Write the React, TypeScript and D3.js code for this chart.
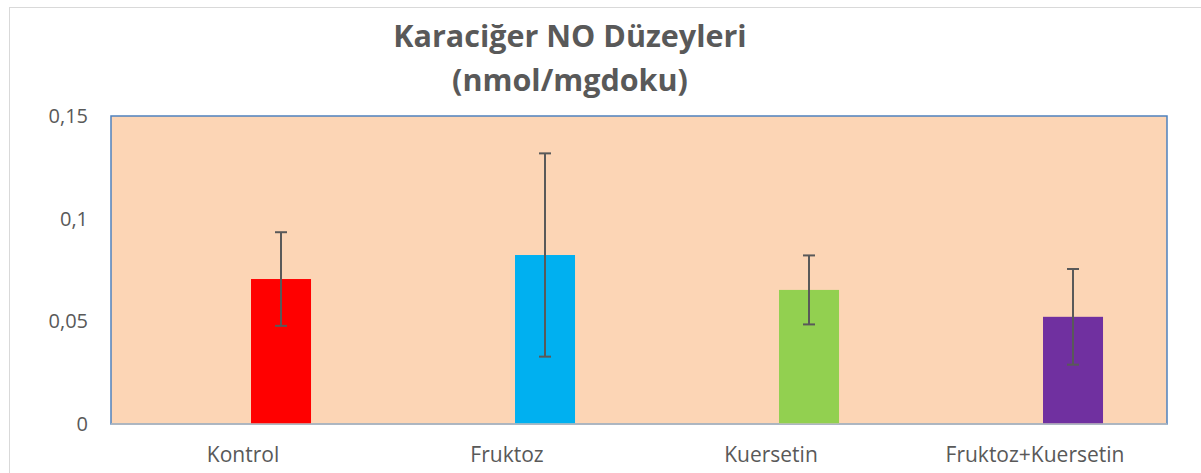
import React from "react";
import * as d3 from "d3";

const categories = ["Kontrol", "Fruktoz", "Kuersetin", "Fruktoz+Kuersetin"];
const values = [0.0706, 0.0823, 0.0653, 0.0522];
const errors = [0.0228, 0.0495, 0.0168, 0.0233];
const colors = ["#FF0000", "#00B0F0", "#92D050", "#7030A0"];
const yTicks = [0, 0.05, 0.1, 0.15];
const yTickLabels = ["0", "0,05", "0,1", "0,15"];
const titleLines = ["Karaciğer NO Düzeyleri", "(nmol/mgdoku)"];

const W = 1201;
const H = 473;
const plot = { left: 111, right: 1167, top: 116, bottom: 424 };
const FONT = "'Open Sans', sans-serif";
const TEXT = "#595959";

export default function App() {
  const x = d3
    .scaleBand<string>()
    .domain(categories)
    .range([plot.left, plot.right])
    .paddingInner(0)
    .paddingOuter(0);
  const y = d3.scaleLinear().domain([0, 0.15]).range([plot.bottom, plot.top]);
  const step = x.bandwidth();
  const bw = step * 0.2273;
  const barOffset = step * 0.144;
  const cap = 6;
  const center = (c: string) => (x(c) as number) + step / 2;

  return (
    <svg
      width={W}
      height={H}
      style={{ position: "absolute", left: 0, top: 0, display: "block", background: "#fff" }}
    >
      <rect x={9.5} y={7.5} width={W + 10} height={H + 10} fill="#fff" stroke="#D9D9D9" strokeWidth={1} />
      {titleLines.map((t, i) => (
        <text
          key={t}
          x={570}
          y={47 + i * 44}
          textAnchor="middle"
          fontFamily={FONT}
          fontWeight={700}
          fontSize={30.5}
          fill={TEXT}
        >
          {t}
        </text>
      ))}
      <rect
        x={plot.left}
        y={plot.top}
        width={plot.right - plot.left}
        height={plot.bottom - plot.top}
        fill="#FCD5B5"
        stroke="#4F81BD"
        strokeWidth={1.5}
      />
      {categories.map((c, i) => (
        <rect
          key={c}
          x={center(c) + barOffset - bw / 2}
          y={y(values[i])}
          width={bw}
          height={y(0) - y(values[i])}
          fill={colors[i]}
        />
      ))}
      <line x1={plot.left} x2={plot.right} y1={plot.bottom} y2={plot.bottom} stroke="#BFBFBF" strokeWidth={1.5} />
      {categories.map((c, i) => {
        const cx = center(c) + barOffset;
        const yt = y(values[i] + errors[i]);
        const yb = y(values[i] - errors[i]);
        return (
          <g key={c + "e"} stroke="#595959" strokeWidth={2}>
            <line x1={cx} x2={cx} y1={yt} y2={yb} />
            <line x1={cx - cap} x2={cx + cap} y1={yt} y2={yt} />
            <line x1={cx - cap} x2={cx + cap} y1={yb} y2={yb} />
          </g>
        );
      })}
      {yTicks.map((t, i) => (
        <text
          key={t}
          x={88}
          y={y(t)}
          dy="0.35em"
          textAnchor="end"
          fontFamily={FONT}
          fontSize={20}
          fill={TEXT}
        >
          {yTickLabels[i]}
        </text>
      ))}
      {categories.map((c) => (
        <text
          key={c + "l"}
          x={center(c)}
          y={462}
          textAnchor="middle"
          fontFamily={FONT}
          fontSize={21}
          fill={TEXT}
        >
          {c}
        </text>
      ))}
    </svg>
  );
}
